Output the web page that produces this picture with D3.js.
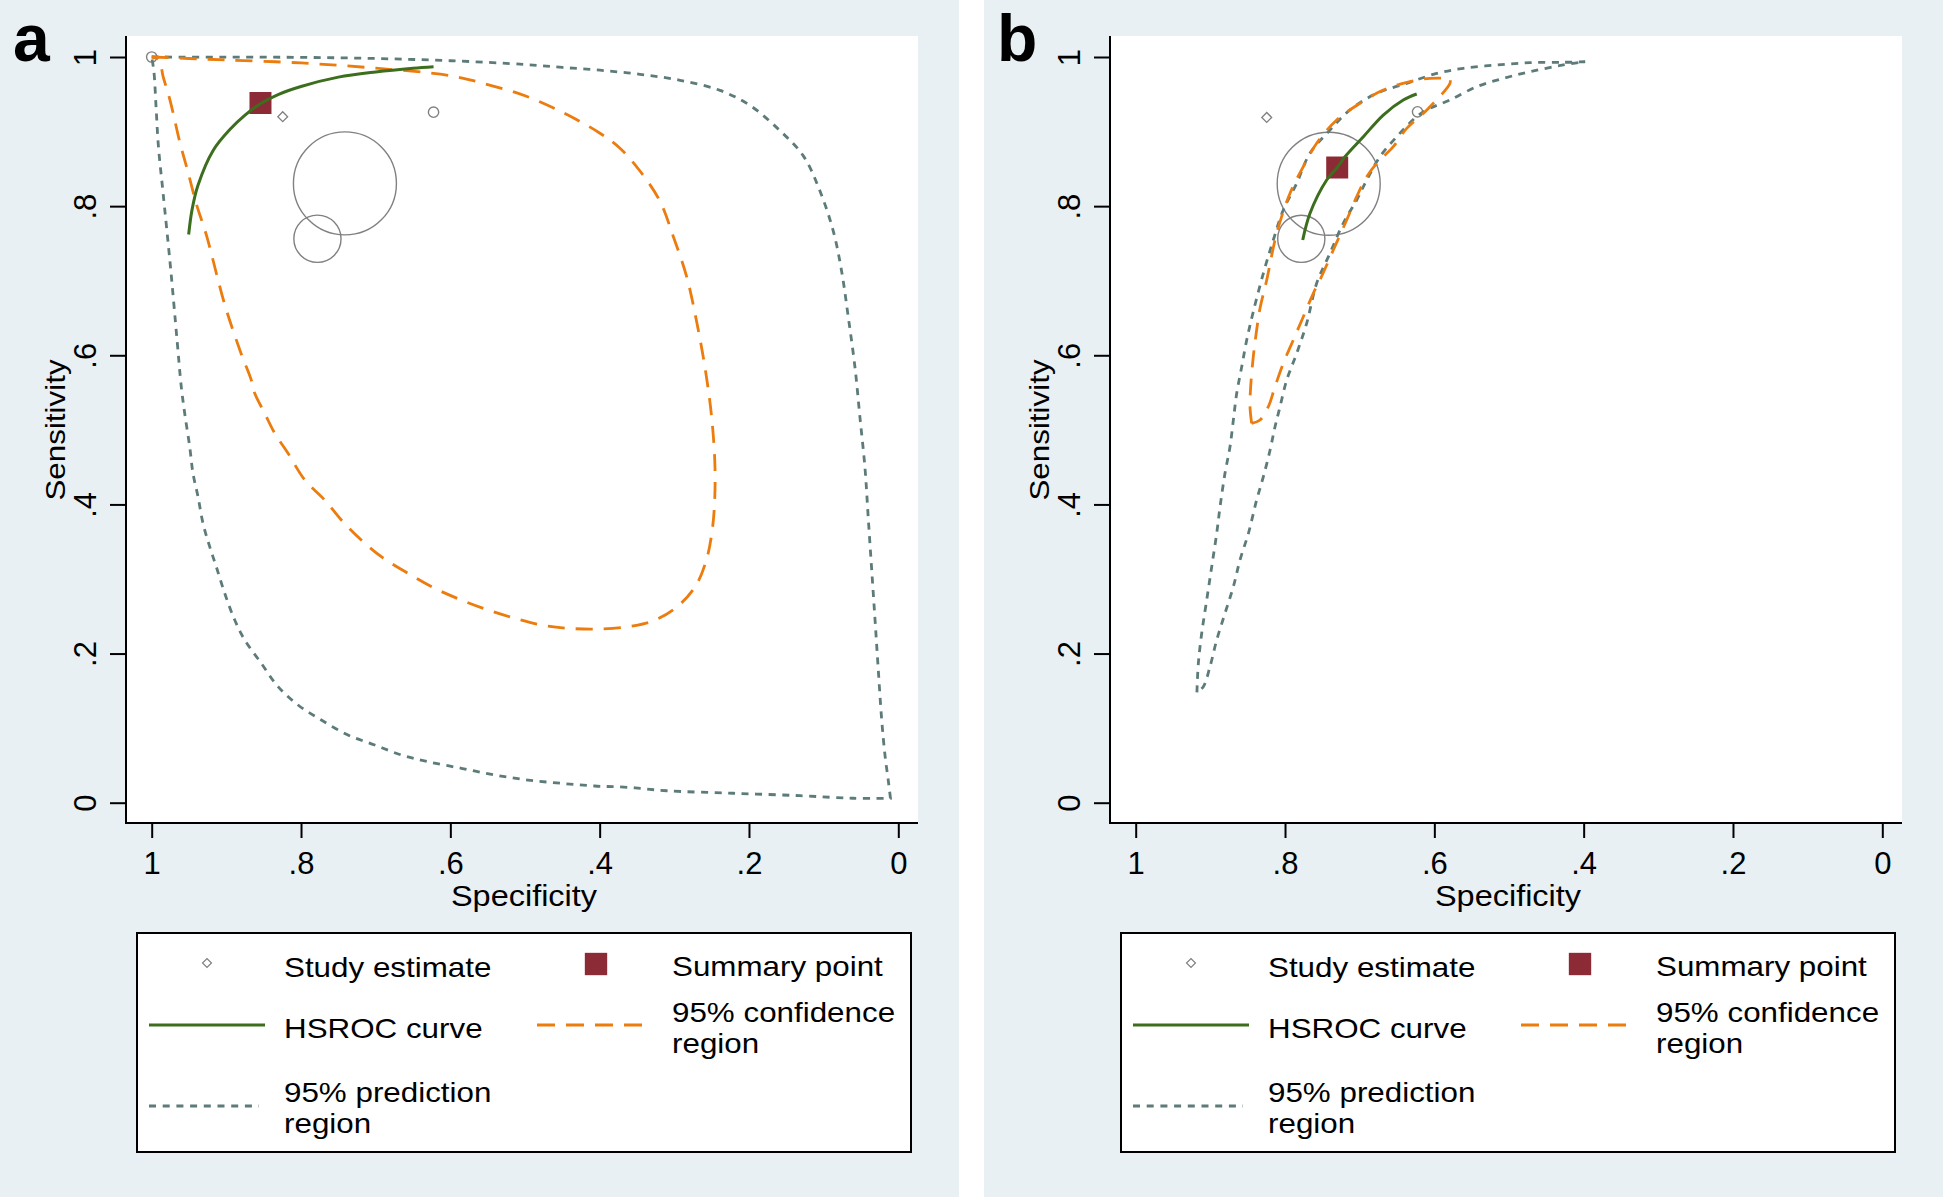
<!DOCTYPE html>
<html><head><meta charset="utf-8">
<script src="https://cdn.jsdelivr.net/npm/d3@7"></script>
<style>html,body{margin:0;padding:0;background:#fff;} svg{display:block;}</style>
</head><body>
<svg id="chart" width="1944" height="1201"></svg>
<script>
// ---------------- DATA ----------------
const panelLabels = ["a", "b"];
const specTicks = [1, 0.8, 0.6, 0.4, 0.2, 0];
const specTickLabels = ["1", ".8", ".6", ".4", ".2", "0"];
const sensTicks = [0, 0.2, 0.4, 0.6, 0.8, 1];
const sensTickLabels = ["0", ".2", ".4", ".6", ".8", "1"];
const xTitle = "Specificity";
const yTitle = "Sensitivity";

// Panel a: study estimates
const studySpecA = [1.0, 0.8245, 0.6225, 0.7412, 0.7780];
const studySensA = [1.0, 0.920, 0.926, 0.8305, 0.7563];
const studyWeightA = [1, 1, 1, 100, 21];
const studySymbolA = ["circle", "diamond", "circle", "circle", "circle"];
// Panel b: study estimates
const studySpecB = [0.8245, 0.6225, 0.7415, 0.7782];
const studySensB = [0.919, 0.9265, 0.830, 0.7562];
const studyWeightB = [1, 1, 100, 21];
const studySymbolB = ["diamond", "circle", "circle", "circle"];

const summaryA = [0.8543, 0.9383];
const summaryB = [0.7301, 0.8518];

const hsrocA = [[0.9505,0.762],[0.946,0.795],[0.938,0.828],[0.9175,0.875],[0.895,0.903],[0.875,0.922],[0.855,0.937],[0.83,0.950],[0.80,0.9605],[0.75,0.973],[0.70,0.980],[0.65,0.985],[0.6225,0.987]];
const hsrocB = [[0.7763,0.7546],[0.7665,0.7904],[0.7442,0.835],[0.7301,0.8518],[0.7197,0.8663],[0.6951,0.8931],[0.6684,0.9222],[0.6416,0.9423],[0.6236,0.9504]];

const confA = [[1.0,1.0],[0.95,0.998],[0.9,0.996],[0.8,0.992],[0.7,0.985],[0.6,0.975],[0.55,0.963],[0.5,0.948],[0.45,0.926],[0.3996,0.8978],[0.3728,0.8776],[0.346,0.8471],[0.3192,0.8066],[0.3014,0.7593],[0.2834,0.7052],[0.27,0.6445],[0.2589,0.5836],[0.2499,0.516],[0.2455,0.4486],[0.2465,0.3945],[0.2499,0.3607],[0.2566,0.327],[0.27,0.2932],[0.2924,0.2661],[0.3236,0.2458],[0.3549,0.2371],[0.3996,0.2330],[0.4424,0.2339],[0.4782,0.2383],[0.5138,0.2473],[0.5496,0.2584],[0.5853,0.2718],[0.621,0.2875],[0.6567,0.3076],[0.6925,0.3299],[0.7193,0.3523],[0.746,0.3791],[0.7683,0.4059],[0.795,0.4328],[0.8174,0.4686],[0.8352,0.4954],[0.8486,0.5222],[0.862,0.549],[0.8666,0.5668],[0.881,0.6045],[0.902,0.6675],[0.927,0.762],[0.9396,0.801],[0.952,0.848],[0.962,0.8843],[0.9755,0.9423],[0.9847,0.9736],[0.9902,0.996],[1.0,1.0]];

const predATopRight = [[1.0,1.0],[0.9,0.9998],[0.8,0.9995],[0.7,0.998],[0.6,0.995],[0.5,0.99],[0.45,0.986],[0.3996,0.9823],[0.346,0.9768],[0.2924,0.9688],[0.2388,0.9552],[0.1986,0.935],[0.1585,0.9012],[0.1272,0.8674],[0.1049,0.8202],[0.087,0.7661],[0.0758,0.7121],[0.067,0.6512],[0.058,0.5836],[0.0513,0.516],[0.0446,0.4486],[0.0402,0.381],[0.0357,0.3134],[0.0312,0.2458],[0.0268,0.1782],[0.0222,0.1108],[0.0178,0.0634],[0.0134,0.0296],[0.0105,0.006]];
const predABottomLeft = [[0.0105,0.006],[0.0607,0.006],[0.1317,0.0094],[0.221,0.0127],[0.31,0.016],[0.362,0.0206],[0.4067,0.0224],[0.4514,0.026],[0.496,0.0304],[0.5406,0.0371],[0.5853,0.0461],[0.6299,0.055],[0.6657,0.064],[0.7013,0.0774],[0.7371,0.0908],[0.7728,0.1109],[0.804,0.131],[0.8308,0.1556],[0.8532,0.1869],[0.8754,0.2182],[0.8888,0.245],[0.9022,0.2808],[0.9135,0.3165],[0.9223,0.3433],[0.9313,0.3747],[0.938,0.4104],[0.9447,0.4417],[0.9491,0.4774],[0.9558,0.5222],[0.9604,0.5579],[0.966,0.62],[0.975,0.72],[0.985,0.82],[0.991,0.88],[0.994,0.93],[0.997,0.98],[1.0,1.0]];

const predBOuter = [[0.918,0.148],[0.9161,0.1869],[0.9116,0.2272],[0.9049,0.2718],[0.8982,0.3165],[0.8915,0.3613],[0.887,0.397],[0.8804,0.4417],[0.8737,0.4774],[0.8692,0.5132],[0.8647,0.549],[0.858,0.5847],[0.8513,0.6205],[0.8425,0.6585],[0.829,0.71],[0.8157,0.7546],[0.8023,0.7948],[0.7844,0.8306],[0.7666,0.8709],[0.7398,0.902],[0.713,0.929],[0.6772,0.9513],[0.637,0.9647],[0.5968,0.978],[0.5612,0.9848],[0.5165,0.9893],[0.4719,0.9924],[0.4273,0.9929],[0.398,0.9937]];
const predBInner = [[0.398,0.9937],[0.4273,0.9893],[0.4719,0.9803],[0.5076,0.9714],[0.5433,0.9602],[0.579,0.9423],[0.6058,0.9312],[0.6236,0.92],[0.6504,0.8931],[0.6728,0.8663],[0.6906,0.835],[0.704,0.8082],[0.722,0.777],[0.7398,0.7368],[0.7576,0.6965],[0.771,0.6429],[0.7844,0.6026],[0.7977,0.5669],[0.8067,0.531],[0.8134,0.5042],[0.82,0.473],[0.829,0.4372],[0.838,0.406],[0.849,0.3613],[0.8603,0.3255],[0.8692,0.2897],[0.8804,0.254],[0.8915,0.2182],[0.9005,0.1824],[0.9095,0.1556],[0.918,0.148]];

const confBOuter = [[0.8447,0.5088],[0.8469,0.531],[0.846,0.5579],[0.8425,0.5981],[0.838,0.6339],[0.8335,0.663],[0.8245,0.701],[0.8111,0.7636],[0.7933,0.8172],[0.7755,0.853],[0.7576,0.8843],[0.7308,0.9155],[0.6996,0.9379],[0.6684,0.9557],[0.6326,0.9669],[0.6058,0.9714],[0.579,0.9714]];
const confBInner = [[0.579,0.9714],[0.579,0.9647],[0.6058,0.9333],[0.6147,0.9245],[0.637,0.9043],[0.655,0.8797],[0.6772,0.8574],[0.6906,0.8395],[0.704,0.8127],[0.7174,0.7814],[0.7353,0.7412],[0.7532,0.701],[0.7621,0.6831],[0.7755,0.6517],[0.7889,0.6205],[0.8023,0.5892],[0.8134,0.5579],[0.8224,0.531],[0.8335,0.5132],[0.8447,0.5088]];

const legendLabels = [["Study estimate"], ["Summary point"], ["HSROC curve"], ["95% confidence", "region"], ["95% prediction", "region"]];

// ---------------- STYLE / LAYOUT ----------------
const C = {
  bg: "#e9f0f3", green: "#3d6e1e", orange: "#ec7c0e", pred: "#5c7b79",
  circle: "#808080", summary: "#8c2a35"
};
const FONT = "'Liberation Sans', Arial, sans-serif";
const STRETCH = 1.12;
const panelOffsets = [0, 984];

const svg = d3.select("#chart");
svg.append("rect").attr("width", 1944).attr("height", 1201).attr("fill", "#fff");

function stext(g, x, y, str, size, opts = {}) {
  const rot = opts.rotate ? ` rotate(${opts.rotate})` : "";
  const sc = opts.noStretch ? "" : ` scale(${STRETCH},1)`;
  return g.append("text")
    .attr("transform", `translate(${x},${y})${rot}${sc}`)
    .attr("font-family", FONT).attr("font-size", size)
    .attr("font-weight", opts.bold ? "bold" : "normal")
    .attr("text-anchor", opts.anchor || "start")
    .attr("fill", "#000").text(str);
}

function drawPanel(idx, d) {
  const ox = panelOffsets[idx];
  const g = svg.append("g").attr("transform", `translate(${ox},0)`);
  g.append("rect").attr("x", 0).attr("y", 0).attr("width", 959).attr("height", 1197).attr("fill", C.bg);
  g.append("rect").attr("x", 127).attr("y", 36).attr("width", 791).attr("height", 787).attr("fill", "#fff");

  const x = d3.scaleLinear().domain([1, 0]).range([151.7, 898.3]);
  const y = d3.scaleLinear().domain([0, 1]).range([802.7, 57]);

  // axes
  const ax = g.append("g").attr("transform", "translate(0,823)")
    .call(d3.axisBottom(x).tickValues(specTicks).tickSize(15).tickSizeOuter(0)
      .tickFormat((v, i) => specTickLabels[i]));
  ax.select(".domain").remove();
  ax.selectAll(".tick line").attr("stroke", "#000").attr("stroke-width", 2);
  ax.selectAll(".tick text").attr("font-family", FONT).attr("font-size", 31)
    .attr("fill", "#000").attr("y", 29).attr("dy", "0.71em");

  const ay = g.append("g").attr("transform", "translate(126,0)")
    .call(d3.axisLeft(y).tickValues(sensTicks).tickSize(16).tickSizeOuter(0)
      .tickFormat((v, i) => sensTickLabels[i]));
  ay.select(".domain").remove();
  ay.selectAll(".tick line").attr("stroke", "#000").attr("stroke-width", 2);
  ay.selectAll(".tick text").attr("font-family", FONT).attr("font-size", 31).attr("fill", "#000")
    .attr("x", null).attr("dy", null)
    .attr("text-anchor", "middle").attr("transform", "translate(-30,0) rotate(-90)");

  g.append("line").attr("x1", 126).attr("x2", 126).attr("y1", 36).attr("y2", 824).attr("stroke", "#000").attr("stroke-width", 2);
  g.append("line").attr("x1", 125).attr("x2", 918).attr("y1", 823).attr("y2", 823).attr("stroke", "#000").attr("stroke-width", 2);

  stext(g, 524, 906, xTitle, 29, { anchor: "middle" });
  stext(g, 65, 430, yTitle, 28, { anchor: "middle", rotate: -90 });
  stext(g, 13, 61, panelLabels[idx], 66, { bold: true, noStretch: true });

  const line = d3.line().x(p => x(p[0])).y(p => y(p[1])).curve(d3.curveCatmullRom.alpha(0.5));
  const segPath = segs => segs.map((s, i) => { const p = line(s); return i ? p.replace(/^M/, "L") : p; }).join("");

  // study estimates
  const rScale = d3.scaleSqrt().domain([0, 100]).range([0, 51.5]);
  d.studySpec.forEach((s, i) => {
    const cx = x(s), cy = y(d.studySens[i]);
    if (d.studySymbol[i] === "diamond") {
      g.append("path").attr("d", d3.symbol(d3.symbolSquare, 48)())
        .attr("transform", `translate(${cx},${cy}) rotate(45)`)
        .attr("fill", "#fff").attr("stroke", C.circle).attr("stroke-width", 1.3);
    } else {
      g.append("circle").attr("cx", cx).attr("cy", cy).attr("r", rScale(d.studyWeight[i]))
        .attr("fill", "none").attr("stroke", C.circle).attr("stroke-width", 1.4);
    }
  });

  // summary point
  g.append("path").attr("d", d3.symbol(d3.symbolSquare, 484)())
    .attr("transform", `translate(${x(d.summary[0])},${y(d.summary[1])})`).attr("fill", C.summary);

  // regions
  g.append("path").attr("d", segPath(d.pred)).attr("fill", "none").attr("stroke", C.pred)
    .attr("stroke-width", 2.8).attr("stroke-dasharray", "7,6.5");
  g.append("path").attr("d", segPath(d.conf)).attr("fill", "none").attr("stroke", C.orange)
    .attr("stroke-width", 2.8).attr("stroke-dasharray", "17,11");
  g.append("path").attr("d", line(d.hsroc)).attr("fill", "none").attr("stroke", C.green)
    .attr("stroke-width", 3);

  // legend
  const lg = g.append("g");
  lg.append("rect").attr("x", 137).attr("y", 933).attr("width", 774).attr("height", 219)
    .attr("fill", "#fff").attr("stroke", "#000").attr("stroke-width", 2);
  lg.append("path").attr("d", d3.symbol(d3.symbolSquare, 40)())
    .attr("transform", "translate(207,963) rotate(45)").attr("fill", "#fff").attr("stroke", C.circle).attr("stroke-width", 1.2);
  stext(lg, 284, 977, legendLabels[0][0], 28);
  lg.append("path").attr("d", d3.symbol(d3.symbolSquare, 500)()).attr("transform", "translate(596,964)").attr("fill", C.summary);
  stext(lg, 672, 976, legendLabels[1][0], 28);
  lg.append("line").attr("x1", 149).attr("x2", 265).attr("y1", 1025).attr("y2", 1025).attr("stroke", C.green).attr("stroke-width", 3);
  stext(lg, 284, 1038, legendLabels[2][0], 28);
  lg.append("line").attr("x1", 537).attr("x2", 644).attr("y1", 1025).attr("y2", 1025).attr("stroke", C.orange)
    .attr("stroke-width", 3).attr("stroke-dasharray", "18,11");
  stext(lg, 672, 1022, legendLabels[3][0], 28);
  stext(lg, 672, 1053, legendLabels[3][1], 28);
  lg.append("line").attr("x1", 149).attr("x2", 259).attr("y1", 1106).attr("y2", 1106).attr("stroke", C.pred)
    .attr("stroke-width", 3).attr("stroke-dasharray", "7,6.7");
  stext(lg, 284, 1102, legendLabels[4][0], 28);
  stext(lg, 284, 1133, legendLabels[4][1], 28);
}

drawPanel(0, {
  studySpec: studySpecA, studySens: studySensA, studyWeight: studyWeightA, studySymbol: studySymbolA,
  summary: summaryA, hsroc: hsrocA, conf: [confA], pred: [predATopRight, predABottomLeft]
});
drawPanel(1, {
  studySpec: studySpecB, studySens: studySensB, studyWeight: studyWeightB, studySymbol: studySymbolB,
  summary: summaryB, hsroc: hsrocB, conf: [confBOuter, confBInner], pred: [predBOuter, predBInner]
});
</script>
</body></html>
